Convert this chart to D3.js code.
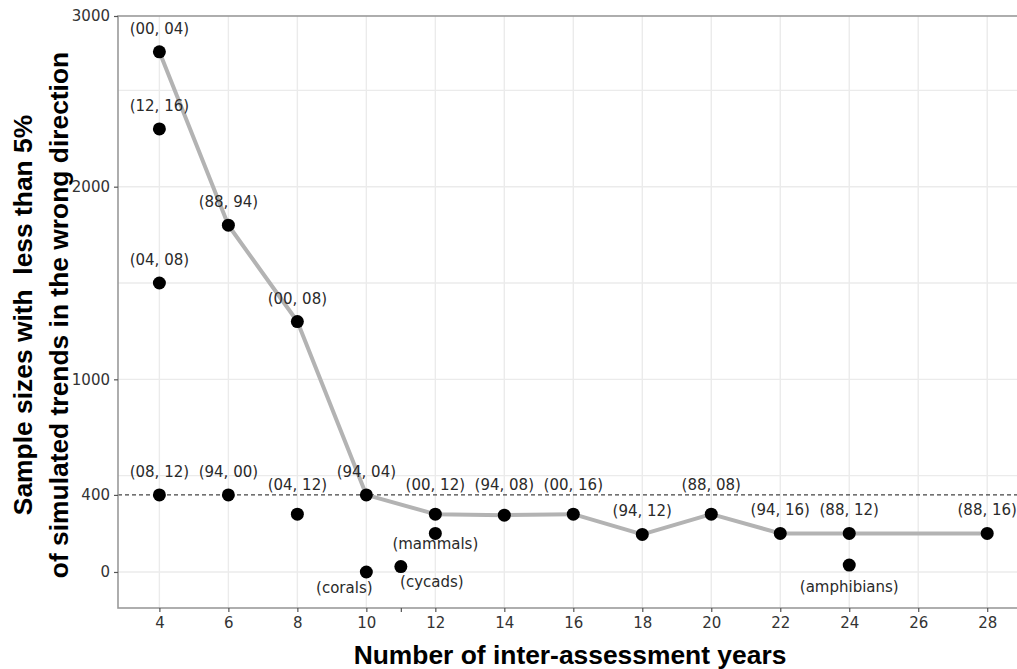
<!DOCTYPE html>
<html>
<head>
<meta charset="utf-8">
<script src="https://cdn.jsdelivr.net/npm/d3@7"></script>
<style>
  html, body { margin: 0; padding: 0; background: #ffffff; }
  svg { display: block; }
</style>
</head>
<body>
<svg id="chart" width="1017" height="669"></svg>
<script>
// ---------------- data ----------------
// main (connected) series: minimum sample size per inter-assessment interval
const lineYears  = [4, 6, 8, 10, 12, 14, 16, 18, 20, 22, 24, 28];
const lineValues = [2700, 1800, 1300, 400, 300, 295, 300, 195, 300, 200, 200, 200];
const lineLabels = ["(00, 04)", "(88, 94)", "(00, 08)", "(94, 04)", "(00, 12)", "(94, 08)",
                    "(00, 16)", "(94, 12)", "(88, 08)", "(94, 16)", "(88, 12)", "(88, 16)"];

// other interval pairs (not on the line)
const otherYears  = [4, 4, 4, 6, 8];
const otherValues = [2300, 1500, 400, 400, 300];
const otherLabels = ["(12, 16)", "(04, 08)", "(08, 12)", "(94, 00)", "(04, 12)"];

// taxonomic groups
const groupYears  = [12, 10, 11, 24];
const groupValues = [200, 0, 28, 36];
const groupLabels = ["(mammals)", "(corals)", "(cycads)", "(amphibians)"];

// reference line
const refValue = 400;

// axis ticks
const xTickValues = [4, 6, 8, 10, 11, 12, 14, 16, 18, 20, 22, 24, 26, 28];
const xTickLabels = ["4", "6", "8", "10", "", "12", "14", "16", "18", "20", "22", "24", "26", "28"];
const yTickValues = [0, 400, 1000, 2000, 3000];
const yTickLabels = ["0", "400", "1000", "2000", "3000"];
const xGridValues = [4, 6, 8, 10, 12, 14, 16, 18, 20, 22, 24, 26, 28];
const yGridValues = [0, 500, 1000, 1500, 2000, 2500];

const xTitle = "Number of inter-assessment years";
const yTitleLines = ["Sample sizes with\u00a0\u00a0less than 5%", "of simulated trends in the wrong direction"];

// ---------------- layout (styling, not data) ----------------
const groupNudge = {            // label offsets in px relative to point (dx, baseline dy)
  "(mammals)":   [0, 16],
  "(corals)":    [-22, 21],
  "(cycads)":    [31, 20],
  "(amphibians)": [0, 27]
};

const svg = d3.select("#chart");
const mLeft = 118, mTop = 16, mBottom = 608;
const plotRight = 1028.6;

const x = d3.scaleLinear().domain([2.8, 29.2]).range([mLeft, plotRight]);
const y = d3.scaleLinear().domain([-187, 2886]).range([mBottom, mTop]).clamp(true);

const labelFont = "'DejaVu Sans', Verdana, sans-serif";
const titleFont = "'Liberation Sans', Arial, Helvetica, sans-serif";

svg.append("defs").append("clipPath").attr("id", "plotclip")
  .append("rect").attr("x", mLeft).attr("y", mTop).attr("width", plotRight - mLeft).attr("height", mBottom - mTop);

const plot = svg.append("g").attr("clip-path", "url(#plotclip)");

// gridlines
plot.selectAll(".gx").data(xGridValues).enter().append("line")
  .attr("x1", d => x(d)).attr("x2", d => x(d))
  .attr("y1", mTop).attr("y2", mBottom)
  .attr("stroke", "#ebebeb").attr("stroke-width", 1.4);
plot.selectAll(".gy").data(yGridValues).enter().append("line")
  .attr("x1", mLeft).attr("x2", plotRight)
  .attr("y1", d => y(d)).attr("y2", d => y(d))
  .attr("stroke", "#ebebeb").attr("stroke-width", 1.4);

// reference dashed line
plot.append("line")
  .attr("x1", mLeft).attr("x2", plotRight)
  .attr("y1", y(refValue)).attr("y2", y(refValue))
  .attr("stroke", "#444").attr("stroke-width", 1.3)
  .attr("stroke-dasharray", "4,3");

// connected line
const lineData = lineYears.map((d, i) => ({ x: d, v: lineValues[i], label: lineLabels[i] }));
plot.append("path")
  .datum(lineData)
  .attr("fill", "none")
  .attr("stroke", "#b3b3b3")
  .attr("stroke-width", 4)
  .attr("stroke-linejoin", "round")
  .attr("d", d3.line().x(d => x(d.x)).y(d => y(d.v)));

const otherData = otherYears.map((d, i) => ({ x: d, v: otherValues[i], label: otherLabels[i] }));
const groupData = groupYears.map((d, i) => ({ x: d, v: groupValues[i], label: groupLabels[i] }));
const allPoints = lineData.concat(otherData).concat(groupData);

// points
plot.selectAll(".pt").data(allPoints).enter().append("circle")
  .attr("cx", d => x(d.x)).attr("cy", d => y(d.v)).attr("r", 6.5)
  .attr("fill", "#000");

// labels for interval pairs: above point, lifted above dashed line if they would overlap it
const refY = y(refValue);
function pairBaseline(d) {
  let b = y(d.v) - 18;
  if (Math.abs(b - refY) < 8) b = refY - 5;
  return b;
}
svg.selectAll(".plab").data(lineData.concat(otherData)).enter().append("text")
  .attr("x", d => x(d.x))
  .attr("y", d => pairBaseline(d))
  .attr("text-anchor", "middle")
  .attr("font-family", labelFont)
  .attr("font-size", 15)
  .attr("fill", "#2a2a2a")
  .text(d => d.label);

svg.selectAll(".glab").data(groupData).enter().append("text")
  .attr("x", d => x(d.x) + groupNudge[d.label][0])
  .attr("y", d => y(d.v) + groupNudge[d.label][1])
  .attr("text-anchor", "middle")
  .attr("font-family", labelFont)
  .attr("font-size", 15)
  .attr("fill", "#2a2a2a")
  .text(d => d.label);

// panel border
svg.append("rect")
  .attr("x", mLeft).attr("y", mTop)
  .attr("width", plotRight - mLeft).attr("height", mBottom - mTop)
  .attr("fill", "none").attr("stroke", "#9a9a9a").attr("stroke-width", 1.6);

// axes
const xAxis = d3.axisBottom(x).tickValues(xTickValues)
  .tickFormat((d, i) => xTickLabels[i]).tickSize(4).tickPadding(5);
const gx = svg.append("g").attr("transform", `translate(0,${mBottom})`).call(xAxis);
gx.select(".domain").remove();
gx.selectAll(".tick line").attr("stroke", "#555").attr("stroke-width", 1.2);
gx.selectAll(".tick text").attr("font-family", labelFont).attr("font-size", 15).attr("fill", "#333");

const yAxis = d3.axisLeft(y).tickValues(yTickValues)
  .tickFormat((d, i) => yTickLabels[i]).tickSize(4).tickPadding(4);
const gy = svg.append("g").attr("transform", `translate(${mLeft},0)`).call(yAxis);
gy.select(".domain").remove();
gy.selectAll(".tick line").attr("stroke", "#555").attr("stroke-width", 1.2);
gy.selectAll(".tick text").attr("font-family", labelFont).attr("font-size", 15).attr("fill", "#333");

// axis titles
svg.append("text")
  .attr("x", 570).attr("y", 664)
  .attr("text-anchor", "middle")
  .attr("font-family", titleFont).attr("font-weight", "bold")
  .attr("font-size", 26.4).attr("fill", "#000")
  .text(xTitle);

const yTitleX = [32, 68];
yTitleLines.forEach((t, i) => {
  svg.append("text")
    .attr("transform", `translate(${yTitleX[i]},315) rotate(-90)`)
    .attr("text-anchor", "middle")
    .attr("font-family", titleFont).attr("font-weight", "bold")
    .attr("font-size", 26.4).attr("fill", "#000")
    .text(t);
});
</script>
</body>
</html>
